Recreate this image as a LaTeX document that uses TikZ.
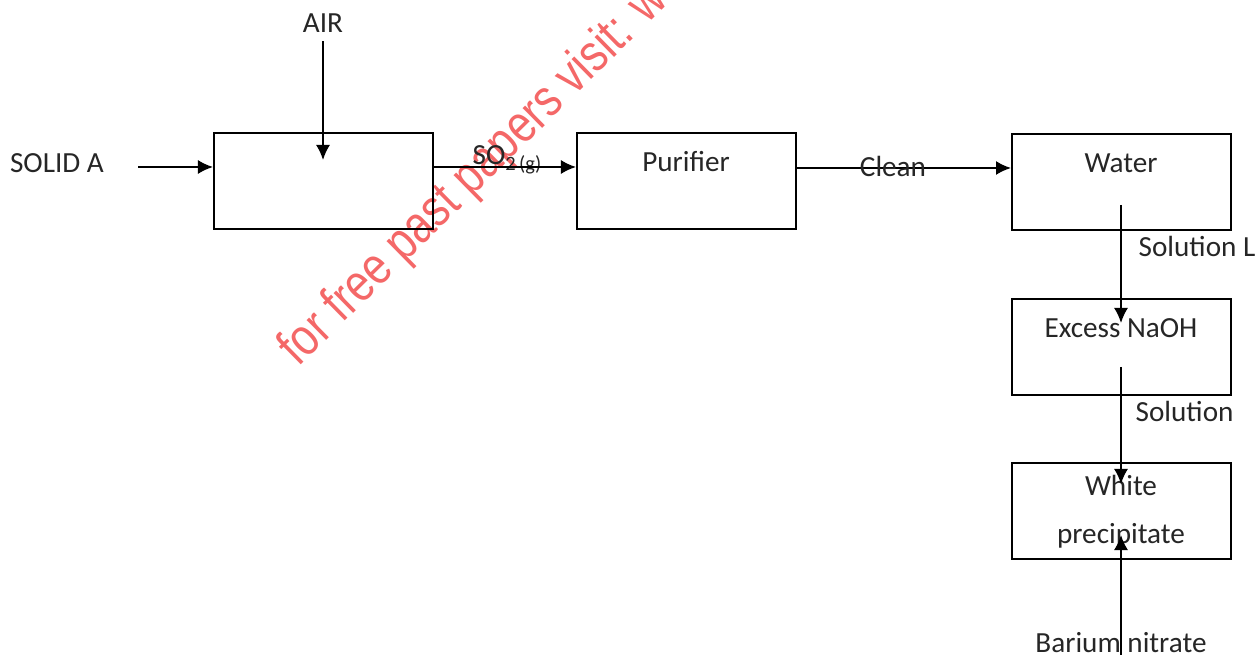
\documentclass[tikz,border=0pt]{standalone}
\usepackage{fontspec}
\setmainfont{Carlito}
\newfontfamily\wmfont{Liberation Sans}
\usetikzlibrary{arrows.meta}
\definecolor{wmred}{RGB}{244,104,104}
\begin{document}
\begin{tikzpicture}[x=0.01cm,y=-0.01cm,
  font=\fontsize{8.3}{10}\selectfont,
  procbox/.style={draw,line width=0.6pt,minimum width=2.19cm,minimum height=0.96cm,inner sep=0pt,anchor=north west},
  txt/.style={inner sep=0pt,text=black!85},
  arr/.style={line width=0.5pt,-{Latex[length=1.5mm,width=1.4mm]}}]
\useasboundingbox (0,0) rectangle (1257,655);
% watermark
\begin{scope}
\clip (0,0) rectangle (1257,655);
\node[inner sep=0pt,anchor=base west,rotate=44.5,xscale=0.82,text=wmred,font=\wmfont\fontsize{15}{17}\selectfont] (wm) at (298,368) {for free past papers visit: w};
\end{scope}
% boxes
\node[procbox] (box1) at (213,132) {};
\node[procbox] (box2) at (576,132) {};
\node[procbox] (box3) at (1011,133) {};
\node[procbox] (box4) at (1011,298) {};
\node[procbox] (box5) at (1011,462) {};
% texts
\node[txt] (air) at (323,23) {AIR};
\node[txt] (solida) at (57,163) {SOLID A};
\node[txt] (pur) at (686,162) {Purifier};
\node[txt] (wat) at (1121,163) {Water};
\node[txt] (naoh) at (1121,328) {Excess NaOH};
\node[txt,align=center] (prec) at (1121,512) {White\\[0.13cm]precipitate};
\node[txt,anchor=west] (soll) at (1138,246) {Solution L};
\node[txt,anchor=west] (sol) at (1135,411) {Solution};
\node[txt] (ba) at (1121,643) {Barium nitrate};
\node[txt,anchor=base west] (so2) at (472,165) {SO\textsubscript{2\,(g)}};
% connector coordinates
\coordinate (airtip) at (323,160);
\coordinate (sastart) at (138,167);
\coordinate (l1) at (0,167);
\coordinate (l2) at (0,168);
\coordinate (w1) at (1121,205);
\coordinate (w2) at (1121,323);
\coordinate (n1) at (1121,367);
\coordinate (n2) at (1121,484);
\coordinate (b1) at (1121,655);
\coordinate (b2) at (1121,535);
% connectors
\draw[arr] (air.south) ++(0,8) -- (airtip);
\draw[arr] (sastart) -- (box1.west |- l1);
\draw[arr] (box1.east |- l1) -- (box2.west |- l1);
\draw[arr] (box2.east |- l2) -- (box3.west |- l2);
\draw[arr] (w1) -- (w2);
\draw[arr] (n1) -- (n2);
\draw[arr] (b1) -- (b2);
\node[txt] (clean) at (893,166) {Clean};
\end{tikzpicture}
\end{document}
